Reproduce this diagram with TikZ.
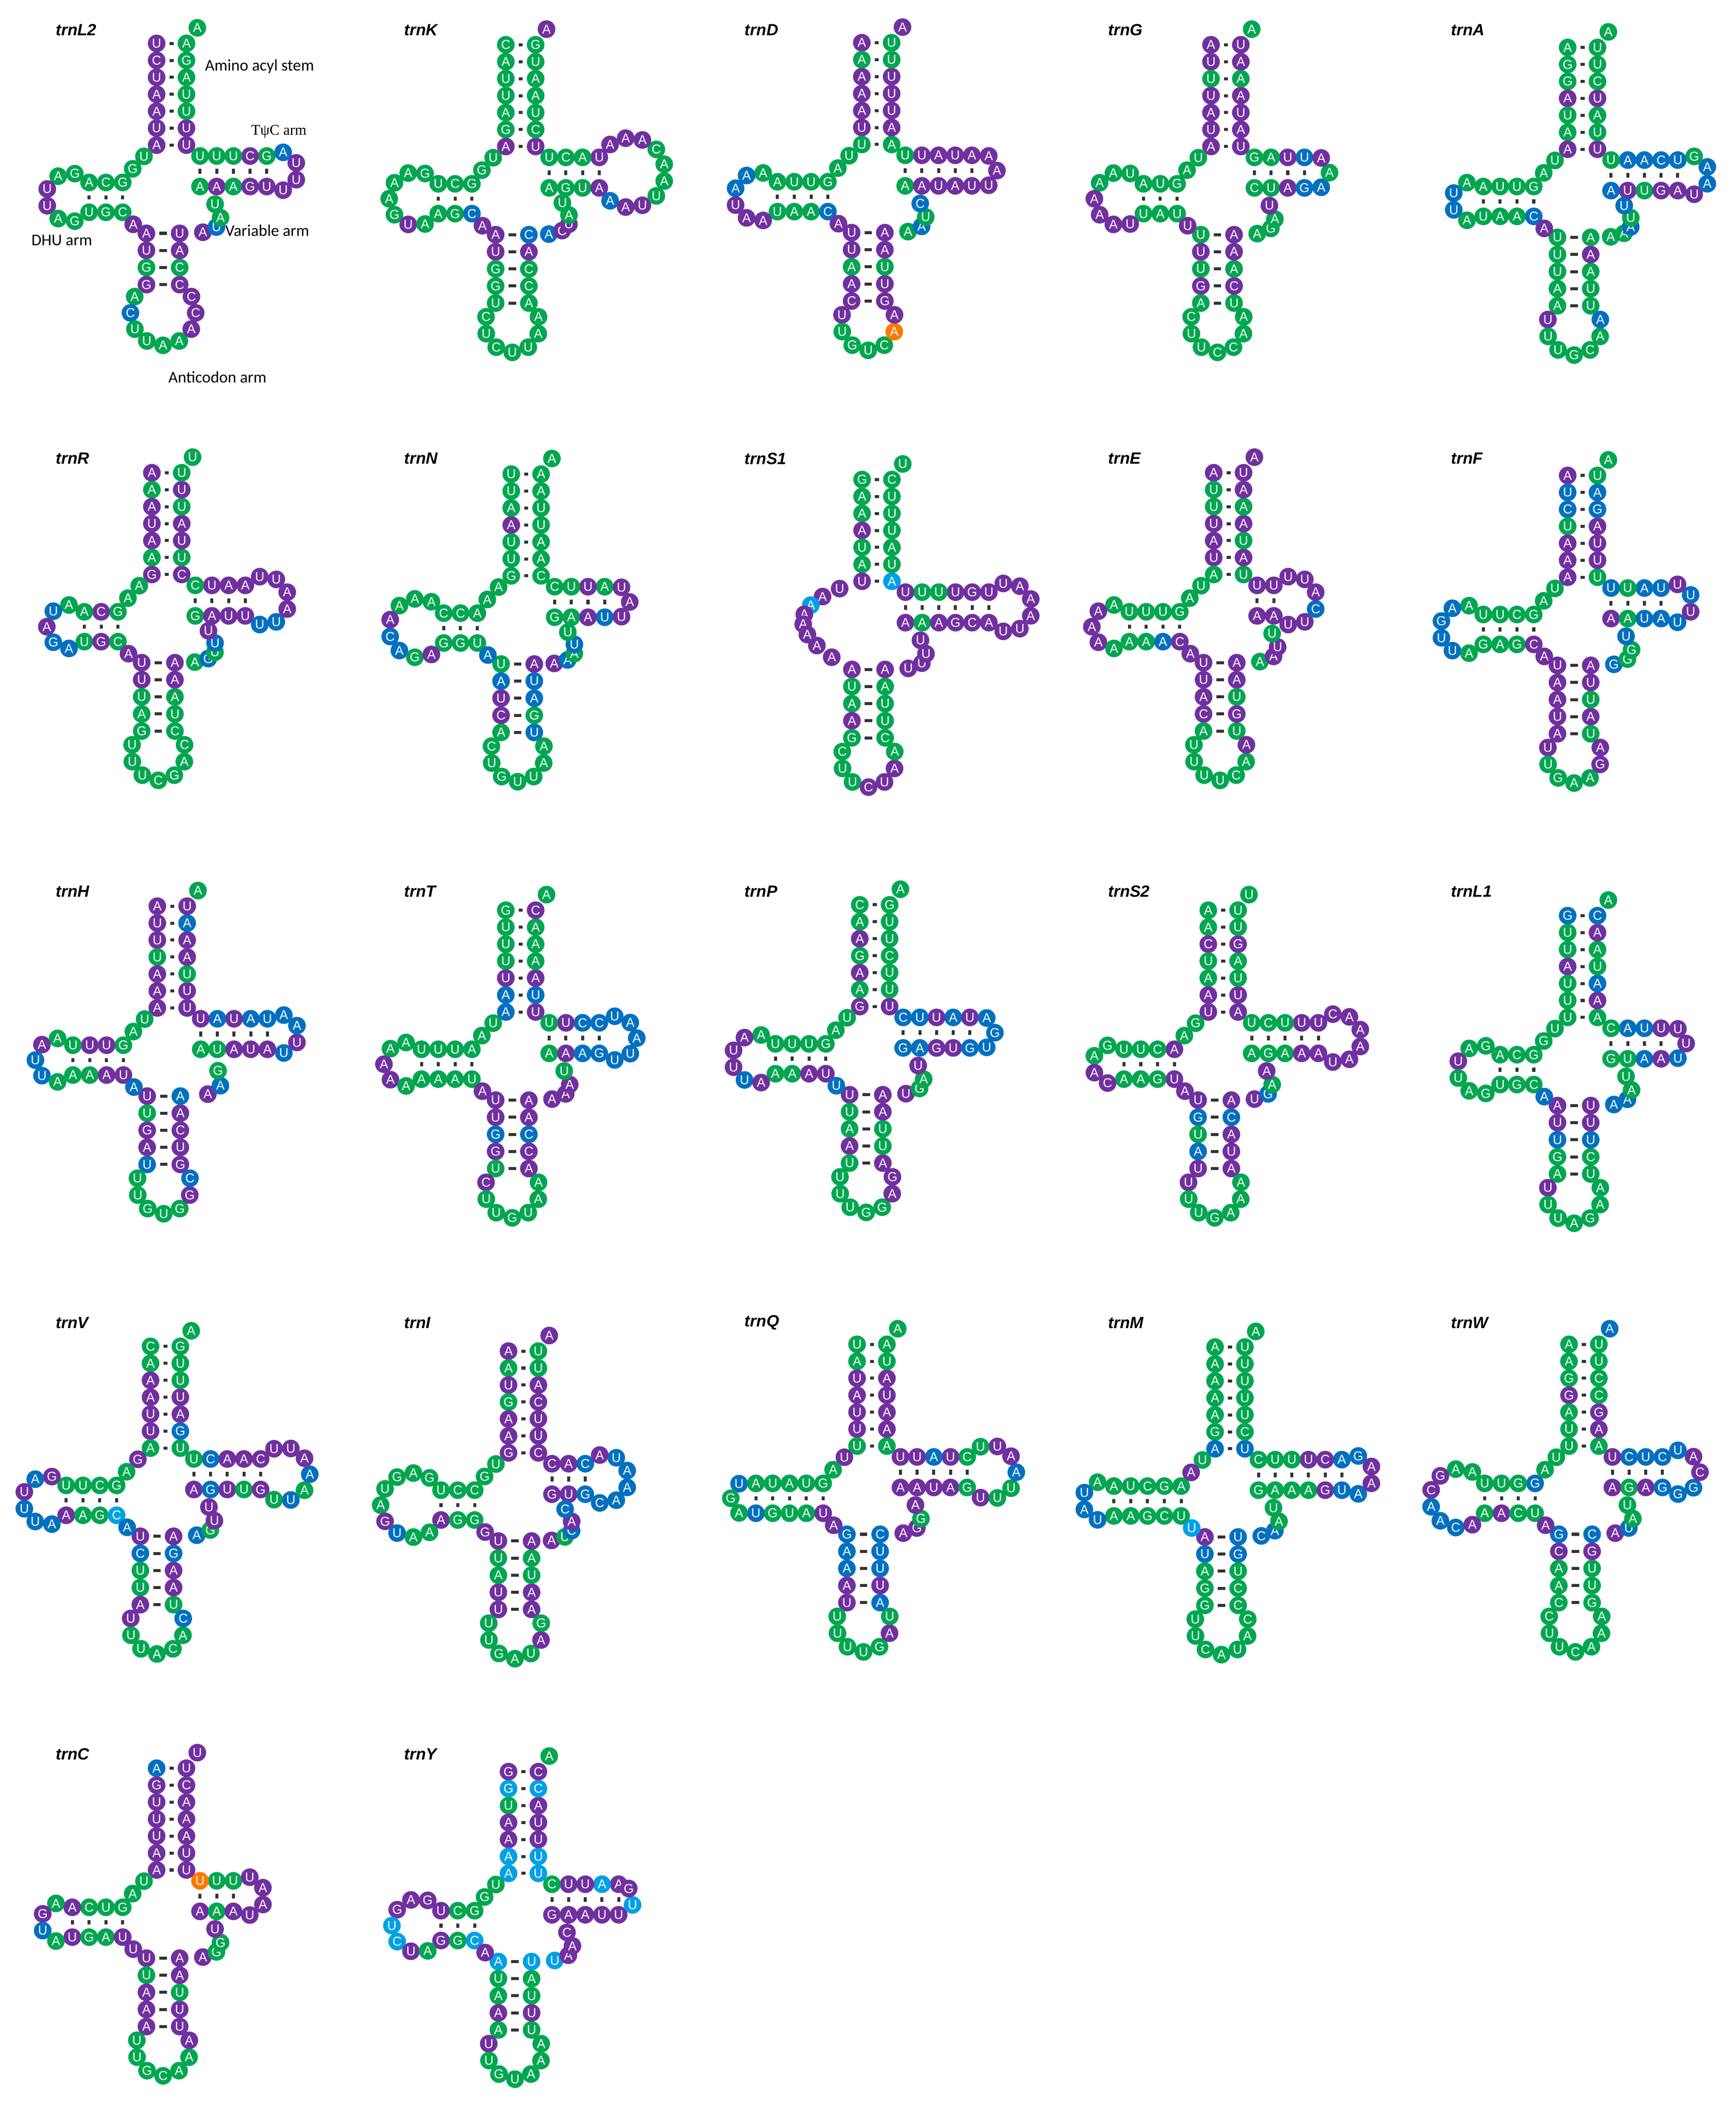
\documentclass[tikz,border=0pt]{standalone}
\usepackage{fontspec}
\setmainfont{Liberation Sans}
\newfontfamily\labfont{Carlito}
\newfontfamily\serfont{Liberation Serif}
\usetikzlibrary{calc}
\definecolor{cg}{RGB}{0,166,80}
\definecolor{cp}{RGB}{112,48,160}
\definecolor{cb}{RGB}{0,112,192}
\definecolor{co}{RGB}{255,120,0}
\definecolor{cc}{RGB}{0,160,230}
\tikzset{
 nt/.style={circle,inner sep=0pt,minimum size=13pt,text=white,font=\fontsize{9.5}{9.5}\selectfont},
 bp/.style={line width=2.2pt,draw=black!80,shorten >=2.8pt,shorten <=2.8pt},
 ttl/.style={font=\fontsize{12}{12}\selectfont\bfseries\itshape,anchor=west,inner sep=0pt},
 lab/.style={font=\fontsize{12}{12}\selectfont\labfont,anchor=west,inner sep=0pt}
}
\def\ntsp{12.4}
\def\splittok#1#2{\gdef\NTl{#1}\gdef\NTc{#2}}
\newcommand\ntat[3]{\expandafter\splittok#3\node[nt,fill=c\NTc] (#1) at #2 {\NTl};}
% stem: name, list5, list3, x0, y0, dx, dy, px, py
\newcommand\stem[9]{%
 \gdef\Sn{0}%
 \foreach \tk [count=\kk from 0] in #2 {%
   \pgfmathsetmacro\NX{#4+\kk*(#6)}\pgfmathsetmacro\NY{#5+\kk*(#7)}%
   \ntat{#1-a\kk}{(\NX,\NY)}{\tk}%
   \xdef\Sn{\the\numexpr\kk+1\relax}\xdef\Px{\NX}\xdef\Py{\NY}}%
 \foreach \tk [count=\kk from 0] in #3 {%
   \pgfmathtruncatemacro\jj{\Sn-1-\kk}%
   \pgfmathsetmacro\NX{#4+\jj*(#6)+(#8)}\pgfmathsetmacro\NY{#5+\jj*(#7)+(#9)}%
   \ntat{#1-b\kk}{(\NX,\NY)}{\tk}%
   \draw[bp] (#1-a\jj) -- (#1-b\kk);}%
}
% hairpin: name, list, Px, Py, ux, uy, vx, vy, g
\newcommand\hairpin[9]{%
 \gdef\hn{0}%
 \foreach \tk [count=\kk] in #2 {\xdef\hn{\kk}}%
 \pgfmathsetmacro\hRz{max(((\hn+1)*\ntsp+#9)/(2*pi),#9/2+0.3)}\xdef\hR{\hRz}%
 \foreach \it in {1,...,25}{%
   \pgfmathsetmacro\hf{(\hn+1)*2*asin(min(1,\ntsp/(2*\hR)))+2*asin(min(1,#9/(2*\hR)))}%
   \pgfmathsetmacro\hRn{\hR*\hf/360}\xdef\hR{\hRn}}%
 \pgfmathsetmacro\hh{sqrt(max(0,\hR*\hR-#9*#9/4))}%
 \pgfmathsetmacro\hbeta{2*asin(min(1,\ntsp/(2*\hR)))}%
 \pgfmathsetmacro\htp{atan2(-#9/2,-\hh)}%
 \foreach \tk [count=\kk] in #2 {%
   \pgfmathsetmacro\hth{\htp+\kk*\hbeta}%
   \pgfmathsetmacro\ha{\hh+\hR*cos(\hth)}%
   \pgfmathsetmacro\hb{#9/2+\hR*sin(\hth)}%
   \pgfmathsetmacro\NX{#3+\ha*(#5)+\hb*(#7)}%
   \pgfmathsetmacro\NY{#4+\ha*(#6)+\hb*(#8)}%
   \ntat{#1-\kk}{(\NX,\NY)}{\tk}}%
}
% connector: name, list, A, B, bulge
\newcommand\conn[5]{%
 \gdef\cn{0}%
 \foreach \tk [count=\kk] in #2 {\xdef\cn{\kk}}%
 \coordinate (#1-ctl) at ($(#3)!0.5!(#4)!#5!90:(#4)$);%
 \foreach \tk [count=\kk] in #2 {%
   \pgfmathsetmacro\ct{\kk/(\cn+1)}%
   \pgfmathsetmacro\wa{(1-\ct)^2}\pgfmathsetmacro\wb{2*\ct*(1-\ct)}\pgfmathsetmacro\wc{\ct^2}%
   \ntat{#1-\kk}{($\wa*(#3)+\wb*(#1-ctl)+\wc*(#4)$)}{\tk}}%
}
\newcommand\trnA[9]{\gdef\TRid{#1}\gdef\ox{#2}\gdef\oy{#3}\gdef\LaF{#4}\gdef\LaT{#5}\gdef\Ltail{#6}\gdef\Lcone{#7}\gdef\LdF{#8}\gdef\Ldl{#9}}
\newcommand\trnB[9]{%
 \gdef\LdT{#1}\gdef\Lctwo{#2}\gdef\LcF{#3}\gdef\Lcl{#4}\gdef\LcT{#5}\gdef\Lv{#6}\gdef\LtF{#7}\gdef\Ltl{#8}\gdef\LtT{#9}%
 \stem{\TRid-A}{\LaF}{\LaT}{\ox}{\oy}{0}{12.5}{22}{0}%
 \expandafter\splittok\Ltail
 \node[nt,fill=c\NTc] (\TRid-tail) at ($(\TRid-A-b6)+(8,-11.5)$) {\NTl};%
 \stem{\TRid-C}{\LcF}{\LcT}{\ox-7.5}{\oy+140}{0}{12.6}{24.5}{0}%
 \xdef\nC{\Sn}%
 \hairpin{\TRid-CL}{\Lcl}{\Px}{\Py}{0}{1}{1}{0}{24.5}%
 \stem{\TRid-T}{\LtF}{\LtT}{\ox+32}{\oy+105.5}{12.3}{0}{0}{-22.5}%
 \hairpin{\TRid-TL}{\Ltl}{\Px}{\Py}{1}{0}{0}{-1}{22.5}%
 \ifx\LdF\empty
   \conn{\TRid-c1}{\Lcone}{\TRid-A-a6}{\TRid-C-a0}{-80pt}%
 \else
   \stem{\TRid-D}{\LdF}{\LdT}{\ox-25}{\oy+102.5}{-12.4}{0}{0}{22}%
   \xdef\nD{\Sn}%
   \hairpin{\TRid-DL}{\Ldl}{\Px}{\Py}{-1}{0}{0}{1}{22}%
   \conn{\TRid-c1}{\Lcone}{\TRid-A-a6}{\TRid-D-a0}{-3pt}%
   \pgfmathtruncatemacro\lastidx{\nD-1}%
   \conn{\TRid-c2}{\Lctwo}{\TRid-D-b\lastidx}{\TRid-C-a0}{-3pt}%
 \fi
 \pgfmathtruncatemacro\lastidx{\nC-1}%
 \conn{\TRid-v}{\Lv}{\TRid-C-b\lastidx}{\TRid-T-a0}{-48pt}%
}
\begin{document}
\begin{tikzpicture}[x=1pt,y=-1pt]
\useasboundingbox (0,0) rectangle (1280,1566.5);
\fill[white] (0,0) rectangle (1280,1566.5);
% titles
\node[ttl] (t-L2) at (41,22) {trnL2};
\node[ttl] (t-K) at (298,22) {trnK};
\node[ttl] (t-D) at (549,22) {trnD};
\node[ttl] (t-G) at (817,22) {trnG};
\node[ttl] (t-A) at (1070,22) {trnA};
\node[ttl] (t-R) at (41,338) {trnR};
\node[ttl] (t-N) at (298,338) {trnN};
\node[ttl] (t-S1) at (549,338) {trnS1};
\node[ttl] (t-E) at (817,338) {trnE};
\node[ttl] (t-F) at (1070,338) {trnF};
\node[ttl] (t-H) at (41,657) {trnH};
\node[ttl] (t-T) at (298,657) {trnT};
\node[ttl] (t-P) at (549,657) {trnP};
\node[ttl] (t-S2) at (817,657) {trnS2};
\node[ttl] (t-L1) at (1070,657) {trnL1};
\node[ttl] (t-V) at (41,975) {trnV};
\node[ttl] (t-I) at (298,975) {trnI};
\node[ttl] (t-Q) at (549,975) {trnQ};
\node[ttl] (t-M) at (817,975) {trnM};
\node[ttl] (t-W) at (1070,975) {trnW};
\node[ttl] (t-C) at (41,1293) {trnC};
\node[ttl] (t-Y) at (298,1293) {trnY};
% labels
\node[lab] (lab1) at (151,49) {Amino acyl stem};
\node[lab,font=\fontsize{11}{11}\selectfont\serfont] (lab2) at (185,97) {TψC arm};
\node[lab] (lab3) at (166,170) {Variable arm};
\node[lab] (lab4) at (23,177) {DHU arm};
\node[lab] (lab5) at (124,278) {Anticodon arm};
% tRNAs
\trnA{L2}{115.5}{32}{Up,Cp,Up,Ap,Ap,Up,Ap}{Up,Up,Ug,Ug,Ag,Gg,Ag}{Ag}{Ug,Gg}{Gg,Cg,Ag}{Gg,Ag,Up,Up,Ag,Gg}
\trnB{Ug,Gg,Cg}{Ap}{Ap,Up,Gg,Gp}{Ag,Cb,Ug,Ug,Ag,Ag,Ap,Cp,Cp}{Cp,Cg,Ap,Up}{Ap,Ub,Ag,Ug}{Ag,Ap,Ag,Gp,Up}{Up,Up,Up,Ab}{Gg,Cp,Ug,Ug,Ug}
\trnA{K}{373}{33}{Cg,Ag,Ug,Ug,Ag,Gg,Ap}{Up,Cg,Ug,Ag,Ag,Ug,Gg}{Ap}{Ug,Gg}{Gg,Cg,Ug}{Gg,Ag,Ag,Ag,Gg,Up,Ag}
\trnB{Ag,Gg,Cb}{Ap}{Ap,Up,Gg,Gg,Ug}{Cg,Ug,Cg,Ug,Ug,Ag,Ag}{Ag,Cg,Cg,Ap,Cb}{Ab,Cp,Up,Ag,Ug}{Ag,Gg,Ug,Ap}{Ab,Ap,Up,Ug,Ag,Ag,Cg,Ap,Ap,Ap}{Up,Ag,Cg,Ug}
\trnA{D}{635.5}{31.5}{Ap,Ag,Ap,Ap,Ap,Up,Ug}{Ag,Ap,Up,Up,Up,Ug,Ug}{Ap}{Ug,Ag}{Gg,Ug,Ug,Ag}{Ag,Ab,Ab,Up,Ap,Ap}
\trnB{Ug,Ag,Ag,Cb}{Ap}{Up,Up,Ag,Ap,Cp}{Up,Ug,Gg,Ug,Cg,Ao,Ap}{Gp,Up,Ug,Ap,Ap}{Ag,Ab,Ug,Cb}{Ag,Ap,Up,Ap,Up}{Up,Ap,Ap}{Ap,Up,Ap,Up,Ug}
\trnA{G}{893}{33}{Ap,Up,Ug,Up,Ap,Up,Ap}{Up,Ap,Up,Ap,Ag,Ap,Up}{Ag}{Ug,Ag}{Gg,Ug,Ag}{Ug,Ag,Ag,Ap,Ap,Ap,Up}
\trnB{Ug,Ag,Ug}{Up}{Ug,Up,Ug,Gp,Ag}{Cg,Ug,Ug,Cg,Cg,Ag,Ag}{Ug,Cp,Ag,Ap,Ap}{Ag,Gg,Ag,Up}{Cg,Ug,Ap,Gb}{Ab,Ag,Ap}{Ub,Up,Ag,Gg}
\trnA{A}{1156}{35}{Ag,Gg,Gg,Ap,Ug,Ag,Ap}{Up,Ug,Ag,Up,Cg,Ug,Ug}{Ag}{Ug,Ag}{Gg,Ug,Ug,Ag}{Ag,Ub,Ub,Ag}
\trnB{Ug,Ag,Ag,Cb}{Ap}{Ug,Ug,Ug,Ag,Ag}{Up,Ug,Ug,Gg,Cg,Ag,Ab}{Ug,Ug,Ag,Ap,Ag}{Ag,Ag,Ab,Ug,Ub}{Ab,Up,Ug,Gp,Ap}{Up,Ab,Ab,Gg}{Ub,Cb,Ab,Ab,Ug}
\trnA{R}{112}{348.5}{Ap,Ag,Ap,Up,Ap,Ag,Gp}{Cp,Ug,Up,Ap,Ug,Up,Ug}{Ug}{Ag,Ag}{Gg,Cp,Ag}{Ag,Ub,Ap,Gb,Ab}
\trnB{Ug,Gp,Cg}{Ap}{Up,Up,Ug,Ag,Gg}{Ug,Ug,Ug,Cg,Gg,Ag,Cg}{Cg,Ug,Ag,Ap,Ap}{Ag,Gb,Ug,Ub,Up}{Gg,Ap,Up,Up}{Ub,Ub,Ap,Ap,Up,Up}{Ap,Ap,Up,Cg}
\trnA{N}{377}{349.5}{Ug,Ug,Ag,Ap,Ug,Ug,Gg}{Cg,Ag,Ag,Ug,Ug,Ag,Ag}{Ag}{Ag,Ag}{Ag,Cg,Cg}{Ag,Ag,Ag,Ap,Cb,Ab,Gg,Ap}
\trnB{Gg,Gg,Ug}{Ab}{Ug,Ab,Up,Cp,Ag}{Cg,Ug,Gg,Ug,Ug,Ag,Ag}{Ub,Gg,Ab,Ub,Ap}{Ap,Ab,Ag,Ub,Ug}{Gg,Ag,Ap,Ub}{Up,Ap,Up}{Ag,Up,Ug,Cg}
\trnA{S1}{635.7}{353.5}{Gg,Ag,Ag,Ap,Ug,Ag,Up}{Ac,Ug,Ag,Ug,Ug,Ug,Cg}{Ug}{Up,Ap,Ac,Ap,Ap,Ap,Ap,Ap}{}{}
\trnB{}{}{Ap,Ug,Ag,Ap,Gg}{Cg,Ug,Ug,Cp,Up,Ap,Ag}{Cg,Ug,Ug,Ag,Ap}{Up,Up,Up,Up}{Ap,Ag,Ap,Gp,Cp,Ap}{Up,Up,Ap,Ap,Ap,Up}{Up,Gp,Up,Ug,Ug,Up}
\trnA{E}{895}{348.5}{Ap,Ug,Ug,Up,Ap,Up,Ag}{Ug,Ap,Ug,Ap,Ag,Ap,Up}{Ap}{Ug,Ag}{Gg,Ug,Ug,Ug}{Ag,Ap,Ap,Ap,Ag}
\trnB{Ag,Ag,Ab,Cp}{Ap}{Up,Up,Ap,Cp,Ag}{Ug,Ug,Ug,Ug,Cg,Ag,Ap}{Ug,Gp,Ug,Ap,Ap}{Ag,Ap,Up,Ug}{Ap,Ap}{Up,Up,Cb,Ap,Up,Up}{Up,Up}
\trnA{F}{1156}{350.5}{Ap,Ub,Cb,Ug,Ap,Ap,Ap}{Ug,Up,Up,Ap,Gb,Ab,Ug}{Ag}{Ug,Ag}{Gg,Cg,Ug,Ug}{Ag,Ab,Gb,Ub,Ub,Ag}
\trnB{Gg,Ag,Gg,Cp}{Ap}{Up,Ap,Ap,Up,Ap}{Up,Ug,Gg,Ag,Ag,Gp,Ap}{Ug,Ap,Ug,Up,Ap}{Gb,Gg,Gg,Ub}{Ap,Ag,Ub,Ab}{Ub,Up,Ub,Up}{Ub,Ab,Ug,Ub}
\trnA{H}{116}{668}{Ap,Up,Up,Ug,Ap,Ap,Ap}{Up,Up,Ug,Ap,Ap,Ab,Up}{Ag}{Ug,Ag}{Gg,Up,Up,Ug}{Ag,Ap,Ub,Ub,Ag}
\trnB{Ag,Ag,Ap,Up}{Ab}{Up,Ug,Gp,Ap,Ub}{Ug,Ug,Gg,Ug,Gg,Gp,Cb}{Gp,Up,Cp,Ap,Ab}{Ap,Ab,Gg}{Ag,Ug,Ap,Up,Ap}{Ub,Up,Ab,Ab}{Ub,Ab,Up,Ab,Up}
\trnA{T}{373}{671}{Gg,Ug,Ug,Ug,Up,Ab,Ab}{Up,Ub,Ap,Ag,Ag,Ag,Cp}{Ag}{Ug,Ag}{Ag,Ug,Ug,Ug}{Ag,Ag,Ap,Ap,Ag}
\trnB{Ag,Ag,Ag,Ug}{Ap}{Up,Up,Gb,Gp,Ug}{Cp,Ug,Ug,Gg,Ug,Ag,Ag}{Ap,Cp,Cb,Ap,Ap}{Ap,Ap,Ap,Ug}{Ag,Ap,Ab,Gb}{Ub,Ub,Ab,Ab,Ub}{Cb,Cb,Up,Ug}
\trnA{P}{634}{667}{Cg,Ag,Ap,Gg,Ap,Ag,Gp}{Up,Ug,Ug,Cg,Ug,Ug,Gg}{Ag}{Ug,Ag}{Gg,Ug,Ug,Ug}{Ag,Ap,Up,Up,Ub,Ap}
\trnB{Ag,Ag,Ap,Up}{Ub}{Up,Ug,Ag,Ap,Ug}{Ug,Ug,Ug,Gg,Gg,Ap,Gp}{Ap,Ug,Ug,Ap,Ap}{Up,Gg,Ag,Up}{Gb,Ab,Gp,Up,Gb}{Ub,Gb,Ab}{Up,Ab,Up,Ub,Cb}
\trnA{S2}{891}{671}{Ag,Ag,Cp,Ug,Ag,Ap,Up}{Ap,Up,Ug,Ag,Gp,Ug,Ug}{Ug}{Gg,Ag}{Ap,Cg,Ug,Ug}{Gg,Ag,Ap,Cp}
\trnB{Ag,Ag,Gg,Up}{Ap}{Up,Gb,Ug,Ab,Up}{Up,Ug,Ug,Gg,Ag,Ag,Ag}{Ap,Up,Ap,Cb,Ap}{Up,Gb,Ag,Ap}{Ag,Gg,Ag,Ap,Ap}{Up,Ap,Ap,Ap,Ap,Cp}{Up,Up,Ug,Cg,Ug}
\trnA{L1}{1156}{675}{Gb,Ug,Ug,Ap,Ug,Ug,Ug}{Ag,Ap,Ab,Ug,Ag,Ap,Cb}{Ag}{Ug,Gg}{Gg,Cg,Ag}{Gg,Ag,Up,Ug,Ag,Gg}
\trnB{Ug,Gg,Cg}{Ab}{Ap,Up,Ub,Gg,Ag}{Up,Ug,Ug,Ag,Gg,Ag,Ag}{Ug,Cg,Ub,Up,Up}{Ab,Ab,Ag,Ug}{Gg,Ug,Ab,Ap}{Ub,Up,Up}{Up,Ub,Ab,Cg}
\trnA{V}{111}{992.5}{Cg,Ag,Ap,Ap,Up,Up,Ag}{Ug,Gb,Ap,Up,Ug,Ug,Gg}{Ag}{Gp,Ag}{Gg,Cg,Ug,Ug}{Gp,Ab,Up,Ub,Ub,Ab}
\trnB{Ap,Ag,Gg,Cc}{Ab}{Up,Cb,Ug,Ug,Ap}{Up,Ug,Ug,Ag,Cg,Ag,Cb}{Ug,Ap,Ap,Gb,Ap}{Ab,Gg,Up,Up}{Ap,Gb,Up,Ug,Gp}{Ug,Ub,Ag,Ab,Ap,Up,Up}{Cp,Ap,Ap,Cb,Ug}
\trnA{I}{375}{996}{Ap,Ag,Up,Gg,Ap,Ap,Gp}{Cp,Up,Up,Cp,Ap,Ug,Ug}{Ap}{Ug,Gg}{Cg,Cg,Ug}{Gg,Ag,Gg,Ug,Ag,Gp,Ub,Ag,Ag}
\trnB{Ap,Gg,Gg}{Gp}{Up,Ug,Ag,Up,Up}{Ug,Ug,Gg,Ag,Ug,Ap,Gg}{Ap,Ap,Ug,Ag,Ap}{Ap,Ug,Cb,Ap,Cb}{Gp,Up,Gb}{Cb,Ab,Ab,Ab,Ub,Ap}{Cb,Ap,Cp}
\trnA{Q}{632}{991}{Ug,Ag,Up,Ap,Up,Up,Ug}{Ag,Ap,Ap,Up,Ap,Ug,Ag}{Ag}{Up,Ag}{Gg,Ug,Ag,Ug,Ag}{Ub,Gg,Ag}
\trnB{Ub,Gg,Ug,Ag,Up}{Ap}{Gb,Ab,Ab,Ap,Up}{Ug,Ug,Ug,Ug,Gg,Ap,Ug}{Ab,Up,Ub,Ub,Cb}{Ap,Gp,Gg,Ap}{Ap,Ap,Up,Ap,Gg}{Up,Ug,Ug,Ab,Ap,Up,Ug}{Cg,Up,Ab,Up,Up}
\trnA{M}{896}{993}{Ag,Ag,Ag,Ag,Ag,Gg,Ab}{Ub,Cg,Ug,Ug,Ug,Ug,Ug}{Ag}{Ug,Ap}{Ag,Gg,Cg,Ug,Ag}{Ag,Ub,Ab,Ub}
\trnB{Ag,Ag,Gg,Cg,Ug}{Uc}{Ap,Ub,Ag,Gg,Gg}{Ug,Ug,Cg,Ag,Ug,Ag,Cg}{Cg,Cg,Ug,Gb,Ub}{Cb,Ab,Ag,Ug}{Gg,Ag,Ag,Ag,Gp,Ub}{Ab,Ap,Ap,Gb}{Ab,Cp,Up,Ug,Ug,Cg}
\trnA{W}{1157}{991}{Ag,Ag,Gg,Gp,Ag,Ug,Ug}{Ag,Ap,Gp,Cg,Cg,Ug,Ug}{Ab}{Ug,Ag}{Gb,Gg,Ug,Ug}{Ag,Ag,Gp,Cp,Ab,Ab,Cb,Ap}
\trnB{Ag,Ap,Cg,Ug}{Ap}{Gb,Cp,Ag,Ag,Cg}{Cg,Ug,Ug,Cg,Ag,Ag,Ag}{Gg,Ug,Ug,Gp,Cb}{Ap,Ub,Ag,Ug}{Ap,Gg,Ap,Gb}{Gb,Gb,Cp,Ap,Ub}{Cb,Ub,Cb,Up}
\trnA{C}{115.5}{1303.5}{Ab,Gp,Up,Up,Up,Ap,Ap}{Up,Up,Ap,Ap,Ap,Cp,Up}{Up}{Ug,Ag}{Gg,Ug,Cg,Ap}{Ag,Gp,Ub,Ag}
\trnB{Up,Gg,Ag,Up}{Up}{Up,Ug,Ap,Ap,Ap}{Ug,Ug,Gg,Cg,Ag,Ag,Ap}{Up,Up,Ug,Ap,Ap}{Ap,Gg,Gg,Up}{Ap,Ag,Ap}{Up,Ap,Ap,Up}{Ug,Ug,Uo}
\trnA{Y}{375}{1306}{Gp,Gc,Ug,Ap,Ap,Ac,Ac}{Uc,Uc,Up,Up,Ap,Cc,Cp}{Ag}{Ug,Gg}{Gg,Cg,Up}{Gp,Ap,Gp,Uc,Cc,Up,Ag}
\trnB{Gp,Gg,Cc}{Ap}{Ac,Ug,Ag,Ap,Ag}{Up,Ug,Gg,Ug,Ag,Ag,Ag}{Ug,Up,Ug,Ag,Uc}{Uc,Ap,Ap,Cp}{Gp,Ap,Ap,Up,Up}{Uc,Gp}{Ap,Ac,Up,Up,Cg}
\end{tikzpicture}
\end{document}
